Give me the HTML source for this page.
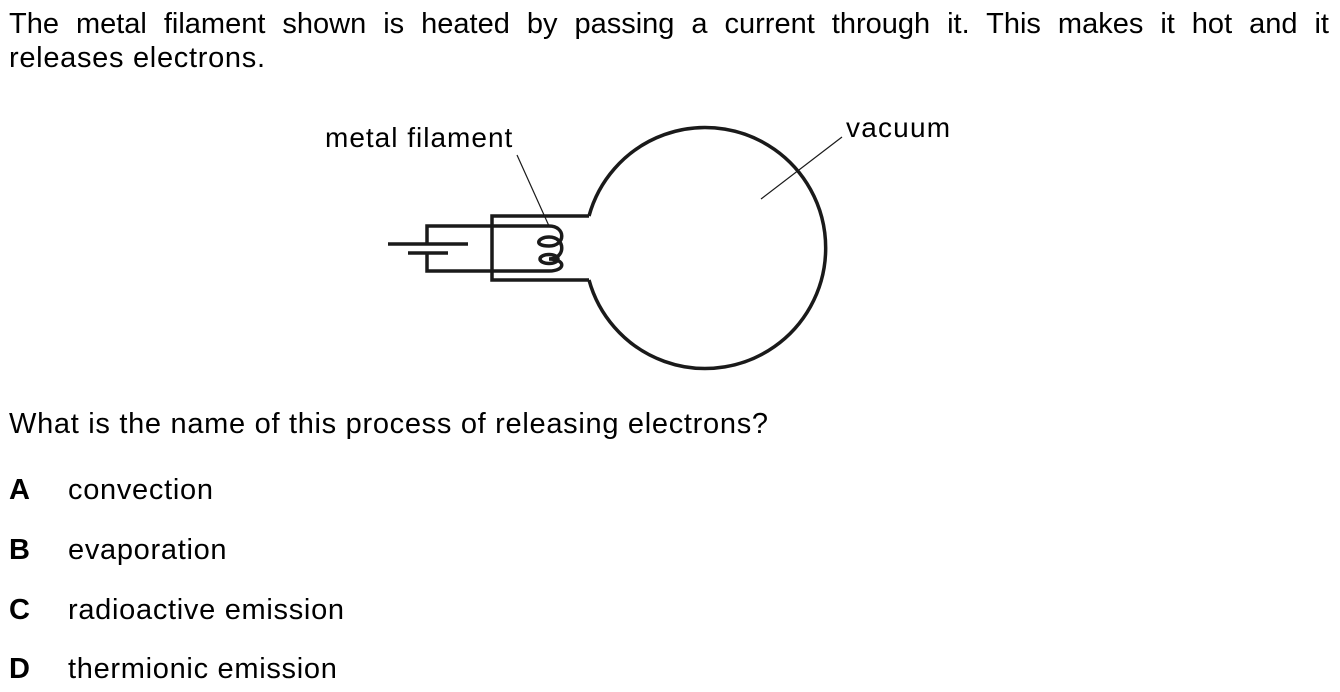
<!DOCTYPE html>
<html><head><style>
body{margin:0;width:1340px;height:692px;background:#fff;position:relative;overflow:hidden;font-family:"Liberation Sans",Arial,sans-serif;color:#000}
.t{position:absolute;font-size:29px;line-height:32px;white-space:nowrap;letter-spacing:0.7px}
</style></head><body>
<div class="t" style="left:9px;top:8px;width:1320px;white-space:normal;text-align:justify;text-align-last:justify;letter-spacing:0">The metal filament shown is heated by passing a current through it. This makes it hot and it</div>
<div class="t" style="left:9px;top:42px">releases electrons.</div>
<div class="t" style="left:325px;top:122px;font-size:28px;letter-spacing:1px">metal filament</div>
<div class="t" style="left:846px;top:112px;font-size:28px;letter-spacing:1.2px">vacuum</div>
<div class="t" style="left:9px;top:408px">What is the name of this process of releasing electrons?</div>
<div class="t" style="left:9px;top:474px;font-weight:bold">A</div><div class="t" style="left:68px;top:474px">convection</div>
<div class="t" style="left:9px;top:534px;font-weight:bold">B</div><div class="t" style="left:68px;top:534px">evaporation</div>
<div class="t" style="left:9px;top:594px;font-weight:bold">C</div><div class="t" style="left:68px;top:594px">radioactive emission</div>
<div class="t" style="left:9px;top:653px;font-weight:bold">D</div><div class="t" style="left:68px;top:653px">thermionic emission</div>
<svg width="1340" height="692" style="position:absolute;left:0;top:0" fill="none" stroke="#1a1a1a">
<g stroke-width="3.5">
<path d="M589,216 L492,216 L492,280 L589,280"/>
<path d="M589,216 A120.5,120.5 0 1 1 589,280"/>
<path d="M549,226 L427,226 L427,244 M427,253 L427,271 L549,271"/>
<path d="M388,244 L468,244 M408,253 L448,253"/>
<path d="M549,226 C566,226 566,246 549,246 C533,246 538,237 549,237 C566,237 566,259 549,259 C566,259 566,271 549,271"/>
<ellipse cx="549" cy="259" rx="9" ry="4.5"/>
</g>
<g stroke-width="1.2">
<line x1="517" y1="155" x2="549" y2="226"/>
<line x1="842" y1="137" x2="761" y2="199"/>
</g>
</svg>
</body></html>
